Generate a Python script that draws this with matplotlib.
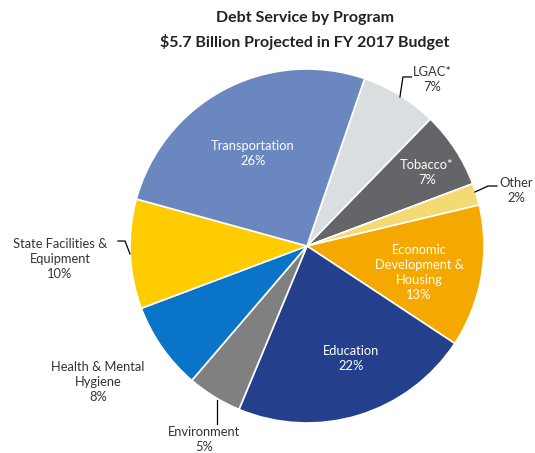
import matplotlib.pyplot as plt

plt.rcParams['font.family'] = ['Lato', 'DejaVu Sans']

# data, clockwise from the LGAC slice
programs = ['LGAC*', 'Tobacco*', 'Other', 'Economic\nDevelopment &\nHousing', 'Education',
            'Environment', 'Health & Mental\nHygiene', 'State Facilities &\nEquipment', 'Transportation']
shares = [7, 7, 2, 13, 22, 5, 8, 10, 26]
colors = ['#D9DEE1', '#636569', '#F5DA73', '#F5A800', '#243F8C',
          '#808080', '#0A74C8', '#FFCC00', '#6A88BF']
inside = [False, True, False, True, True, False, False, False, True]

# label positions (pie radius units)
label_pos = [(0.706, 0.938), (0.678, 0.418), (1.18, 0.311), (0.633, -0.147), (0.249, -0.633),
             (-0.582, -1.096), (-1.181, -0.768), (-1.395, -0.073), (-0.305, 0.525)]
leaders = {
    0: [(0.525, 0.842), (0.542, 0.955), (0.59, 0.955)],
    2: [(0.949, 0.305), (1.023, 0.339), (1.073, 0.339)],
    5: [(-0.508, -0.870), (-0.508, -1.006)],
    7: [(-1.0, -0.045), (-1.028, 0.028), (-1.068, 0.028)],
}

W, H = 535, 453
fig = plt.figure(figsize=(W / 100, H / 100), dpi=100)
cx, cy, r = 307, 246, 177
ax = fig.add_axes([(cx - r) / W, (H - cy - r) / H, 2 * r / W, 2 * r / H])

ax.pie(shares, colors=colors, startangle=71, counterclock=False, radius=1,
       wedgeprops=dict(edgecolor='white', linewidth=1.2))
ax.set_xlim(-1, 1)
ax.set_ylim(-1, 1)
ax.set_aspect('equal')
ax.axis('off')

for i, name in enumerate(programs):
    x, y = label_pos[i]
    txt = name + '\n' + str(shares[i]) + '%'
    ax.text(x, y, txt, ha='center', va='center', fontsize=9.3,
            color='white' if inside[i] else '#333333', linespacing=1.3, clip_on=False)

for i, pts in leaders.items():
    ax.plot([p[0] for p in pts], [p[1] for p in pts], color='black', lw=0.9, clip_on=False)

fig.text(305 / W, 1 - 18 / H, 'Debt Service by Program', ha='center', va='center',
         fontsize=11.5, fontweight='bold', color='#222222')
fig.text(305 / W, 1 - 42 / H, '$5.7 Billion Projected in FY 2017 Budget', ha='center', va='center',
         fontsize=11.5, fontweight='bold', color='#222222')

fig.savefig('out.png', dpi=100)
